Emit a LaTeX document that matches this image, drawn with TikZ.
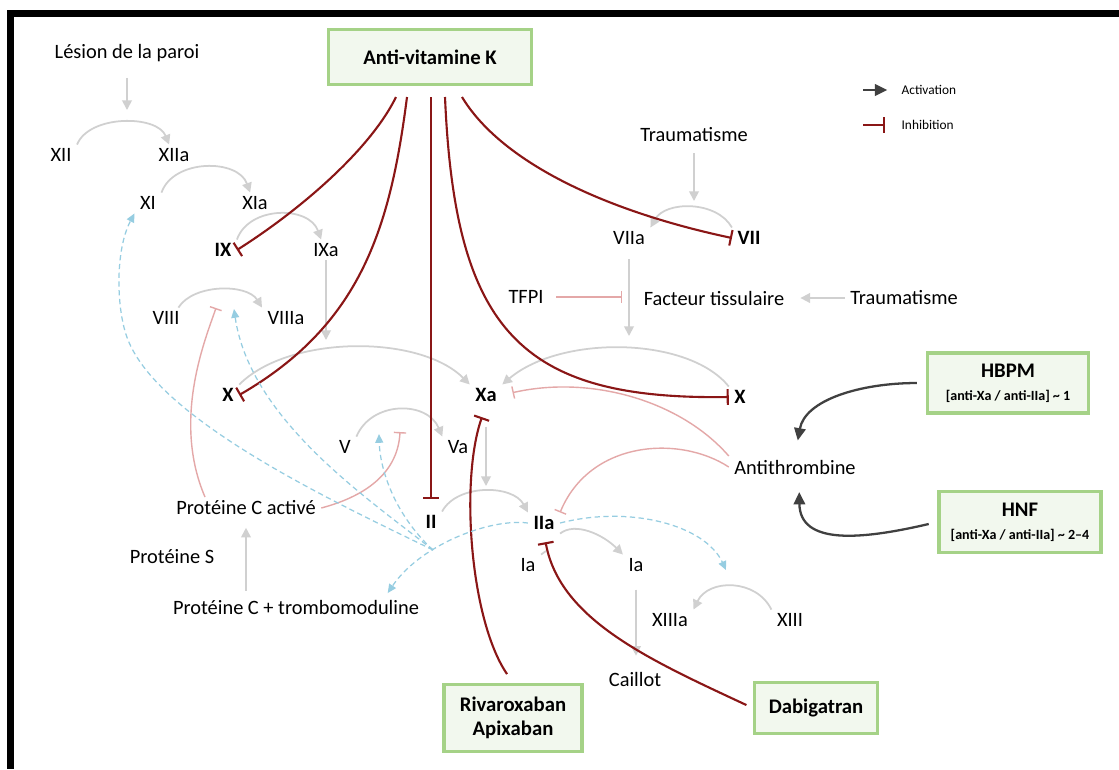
\documentclass[tikz,border=0pt]{standalone}
\usepackage{fontspec}
\setmainfont{Carlito}
\usetikzlibrary{arrows.meta}

\definecolor{gris}{RGB}{208,208,208}
\definecolor{bordeaux}{RGB}{138,22,22}
\definecolor{rose}{RGB}{228,168,168}
\definecolor{bleu}{RGB}{150,205,225}
\definecolor{fonce}{RGB}{64,64,64}
\definecolor{vertbord}{RGB}{165,210,135}
\definecolor{vertfond}{RGB}{242,248,238}

\begin{document}
\begin{tikzpicture}[x=0.02cm, y=-0.02cm,
    lbl/.style={inner xsep=3pt, inner ysep=2pt, font=\fontsize{11.6}{13.9}\selectfont},
    fac/.style={lbl, font=\fontsize{11.6}{13.9}\selectfont\bfseries},
    petit/.style={lbl, anchor=west, font=\fontsize{7.6}{9}\selectfont},
    med/.style={draw=vertbord, line width=2pt, fill=vertfond, align=center, inner sep=0pt,
        font=\fontsize{11.8}{13.9}\selectfont\bfseries},
    act/.style={gris, line width=1pt, -{Triangle[length=5.5pt,width=5.5pt]}},
    inh/.style={bordeaux, line width=1.2pt, -{Bar[width=9pt]}},
    inhrose/.style={rose, line width=0.8pt, -{Bar[width=7pt]}},
    pointille/.style={bleu, line width=0.7pt, dash pattern=on 3pt off 2pt, -{Triangle[length=5pt,width=4.5pt]}},
    fort/.style={fonce, line width=1.3pt, -{Triangle[length=7pt,width=6.5pt]}}]

    % 背景和边框
    \fill[white] (0,0) rectangle (1119,769);
    \useasboundingbox (0,0) rectangle (1119,769);
    \draw[line width=4pt] (7,13.5) -- (1119,13.5);
    \draw[line width=4pt] (10.5,10) -- (10.5,769);

    % 药物方框
    \node[med, minimum width=4.06cm, minimum height=1.1cm] (avk) at (430,57) {Anti-vitamine K};
    \node[med, minimum width=3.22cm, minimum height=1.2cm] (hbpm) at (1008,383)
        {HBPM\\[-1pt]{\fontsize{8}{10}\selectfont [anti-Xa / anti-IIa] \textasciitilde{} 1}};
    \node[med, minimum width=3.24cm, minimum height=1.22cm] (hnf) at (1020,522)
        {HNF\\[-1pt]{\fontsize{8}{10}\selectfont [anti-Xa / anti-IIa] \textasciitilde{} 2--4}};
    \node[med, minimum width=2.76cm, minimum height=1.34cm] (riva) at (513,718) {Rivaroxaban\\Apixaban};
    \node[med, minimum width=2.46cm, minimum height=1.02cm] (dabi) at (816,708) {Dabigatran};

    % 图例
    \node[petit] (legact) at (896,90) {Activation};
    \node[petit] (leginh) at (896,125) {Inhibition};
    \coordinate (leg) at (863,0);
    \draw[fort, shorten >=5pt] (leg |- legact.west) -- (legact.west);
    \draw[inh, shorten >=6pt] (leg |- leginh.west) -- (leginh.west);

    % 凝血因子
    \node[lbl] (lesion) at (127,53) {Lésion de la paroi};
    \node[lbl] (xii) at (61,155) {XII};
    \node[lbl] (xiia) at (174,155) {XIIa};
    \node[lbl] (xi) at (148,203) {XI};
    \node[lbl] (xia) at (255,203) {XIa};
    \node[fac] (ix) at (223,250) {IX};
    \node[lbl] (ixa) at (326,250) {IXa};
    \node[lbl] (viii) at (166,318) {VIII};
    \node[lbl] (viiia) at (286,318) {VIIIa};
    \node[fac] (xl) at (228,395) {X};
    \node[fac] (xa) at (486,395) {Xa};
    \node[lbl] (v) at (345,447) {V};
    \node[lbl] (va) at (458,447) {Va};
    \node[lbl] (pca) at (246,508) {Protéine C activé};
    \node[fac] (ii) at (431,522) {II};
    \node[fac] (iia) at (544,523) {IIa};
    \node[lbl] (ps) at (172,557) {Protéine S};
    \node[lbl] (pct) at (296,607) {Protéine C + trombomoduline};
    \node[lbl] (ia1) at (528,565) {Ia};
    \node[lbl] (ia2) at (636,565) {Ia};
    \node[lbl] (xiiia) at (670,620) {XIIIa};
    \node[lbl] (xiii) at (790,620) {XIII};
    \node[lbl] (caillot) at (635,679) {Caillot};
    \node[lbl] (trauma1) at (694,135) {Traumatisme};
    \node[lbl] (viia) at (629,238) {VIIa};
    \node[fac] (vii) at (749,238) {VII};
    \node[lbl] (tfpi) at (526,297) {TFPI};
    \node[lbl] (facteur) at (714,298) {Facteur tissulaire};
    \node[lbl] (trauma2) at (904,298) {Traumatisme};
    \node[fac] (xr) at (740,397) {X};
    \node[lbl] (atb) at (795,467) {Antithrombine};

    % 辅助点
    \coordinate (avk1) at (396,97);
    \coordinate (avk2) at (407,97);
    \coordinate (avk3) at (431,97);
    \coordinate (avk4) at (445,97);
    \coordinate (avk5) at (462,97);
    \coordinate (hub) at (433,550);
    \coordinate (xiiarc) at (127,110);
    \coordinate (xarc) at (326,340);
    \coordinate (iiarc) at (486,486);
    \coordinate (viiarc) at (694,201);
    \coordinate (xrarc) at (629,336);
    \coordinate (viiiinh) at (216,308);
    \coordinate (vinh) at (400,432);
    \coordinate (viiiact) at (234,309);
    \coordinate (vact) at (379,434);
    \coordinate (xiiiact) at (726,570);
    \coordinate (iastub) at (546,551);
    \coordinate (ftinh) at (622,297);

    % 激活 (灰色)
    \draw[act, shorten <=7pt] (lesion.south) -- (xiiarc);
    \draw[act] (xii.north east) .. controls +(12,-30) and +(-12,-30) .. (xiia.115);
    \draw[act] (xi.north east) .. controls +(12,-34) and +(-12,-34) .. (xia.115);
    \draw[act] (ix.north east) .. controls +(12,-34) and +(-12,-34) .. (ixa.115);
    \draw[act] (ixa.south) -- (xarc);
    \draw[act] (viii.40) .. controls +(15,-24) and +(-15,-24) .. (viiia.north west);
    \draw[act] (xl.north east) .. controls +(50,-50) and +(-50,-50) .. (xa.north west);
    \draw[act] (xr.north west) .. controls +(-40,-50) and +(59,-50) .. (xa.north east);
    \draw[act] (v.north east) .. controls +(15,-36) and +(-15,-36) .. (va.north west);
    \draw[act, shorten <=12pt] (xa.south) -- (iiarc);
    \draw[act] (ii.north east) .. controls +(15,-28) and +(-15,-28) .. (iia.north west);
    \draw[act] (iia.south east) .. controls +(15,-12) and +(-20,-20) .. (ia2.north west);
    \draw[gris, line width=1pt] (ia1.north east) -- (iastub);
    \draw[act, shorten <=8pt, shorten >=7pt] (ia2.south) -- (ia2.south |- caillot.north);
    \draw[act] (xiii.north west) .. controls +(-15,-31) and +(15,-31) .. (xiiia.north east);
    \draw[act, shorten <=4pt] (trauma1.south) -- (viiarc);
    \draw[act] (vii.north west) .. controls +(-15,-27) and +(15,-27) .. (viia.north east);
    \draw[act, shorten <=6pt] (viia.south) -- (xrarc);
    \draw[act, shorten >=6pt] (trauma2.west) -- (facteur.east);
    \draw[act, shorten <=3pt, shorten >=5pt] (pca.south |- pct.north) -- (pca.south);

    % 肝素 -> 抗凝血酶
    \draw[fort, shorten <=5pt, shorten >=9pt] (hbpm.west) .. controls (860,383) and (805,400) .. (atb.north);
    \draw[fort, shorten <=5pt, shorten >=8pt] (hnf.west) .. controls (860,540) and (800,545) .. (atb.290);

    % 抑制 (深红)
    \draw[inh] (avk1) .. controls (370,150) and (300,210) .. (ix.east);
    \draw[inh] (avk2) .. controls (390,230) and (360,325) .. (xl.east);
    \draw[inh, shorten >=7pt] (avk3) -- (avk3 |- ii.north);
    \draw[inh] (avk4) .. controls (455,330) and (520,400) .. (xr.west);
    \draw[inh] (avk5) .. controls (500,160) and (600,210) .. (vii.west);
    \draw[inh, shorten <=6pt, shorten >=7pt] (riva.north) .. controls (470,620) and (460,480) .. (xa.south);
    \draw[inh, shorten <=4pt, shorten >=5pt] (dabi.west) .. controls (650,660) and (560,620) .. (iia.south);

    % 抑制 (浅红)
    \draw[inhrose, shorten <=4pt] (tfpi.east) -- (ftinh);
    \draw[inhrose, shorten >=6pt] (atb.north west) .. controls (680,400) and (590,375) .. (xa.east);
    \draw[inhrose] (atb.west) .. controls (680,435) and (590,440) .. (iia.north east);
    \draw[inhrose] (pca.165) .. controls (172,420) and (205,340) .. (viiiinh);
    \draw[inhrose] (pca.east) .. controls (370,495) and (398,470) .. (vinh);

    % 凝血酶的作用 (虚线)
    \draw[pointille] (hub) .. controls (330,500) and (160,420) .. (128,340)
        .. controls (116,310) and (115,250) .. (xi.south west);
    \draw[pointille] (hub) .. controls (370,500) and (250,420) .. (viiiact);
    \draw[pointille] (hub) .. controls (395,515) and (380,470) .. (vact);
    \draw[pointille, shorten >=2pt] (iia.west) .. controls (490,518) and (420,545) .. (pct.7);
    \draw[pointille] (iia.east) .. controls (630,505) and (705,525) .. (xiiiact);

\end{tikzpicture}
\end{document}
